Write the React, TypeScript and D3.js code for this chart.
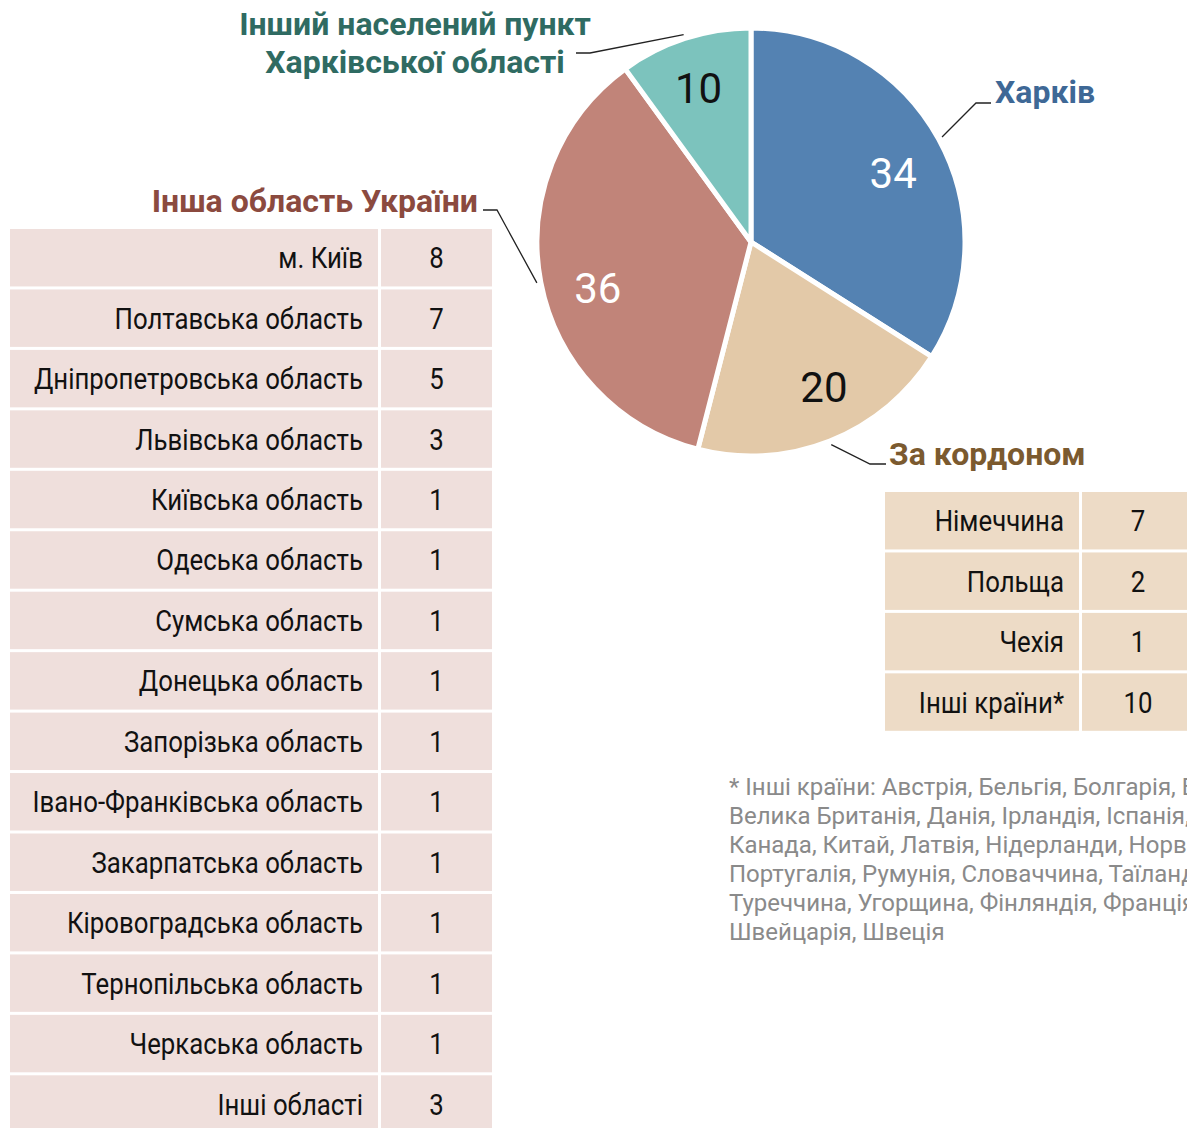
import React from "react";
import * as d3 from "d3";

// pie: where respondents are now
const groups = ["Харків", "За кордоном", "Інша область України", "Інший населений пункт Харківської області"];
const groupValues = [34, 20, 36, 10];
const groupColors = ["#5482b2", "#e3c9a8", "#c18479", "#7cc3bd"];
const labelColors = ["#3e6896", "#7b5a2f", "#8b4a3f", "#2f6b62"];
const valueColors = ["#ffffff", "#111111", "#ffffff", "#111111"];

// left table: other regions of Ukraine
const regions = [
  "м. Київ", "Полтавська область", "Дніпропетровська область", "Львівська область",
  "Київська область", "Одеська область", "Сумська область", "Донецька область",
  "Запорізька область", "Івано-Франківська область", "Закарпатська область",
  "Кіровоградська область", "Тернопільська область", "Черкаська область", "Інші області",
];
const regionValues = [8, 7, 5, 3, 1, 1, 1, 1, 1, 1, 1, 1, 1, 1, 3];

// right table: abroad
const countries = ["Німеччина", "Польща", "Чехія", "Інші країни*"];
const countryValues = [7, 2, 1, 10];

const footnote = [
  "* Інші країни: Австрія, Бельгія, Болгарія, Бразилія,",
  "Велика Британія, Данія, Ірландія, Іспанія, Італія,",
  "Канада, Китай, Латвія, Нідерланди, Норвегія,",
  "Португалія, Румунія, Словаччина, Таїланд,",
  "Туреччина, Угорщина, Фінляндія, Франція,",
  "Швейцарія, Швеція",
];

const W = 1187;
const H = 1128;
const FONT = "Roboto, 'Noto Sans', sans-serif";
const CONDENSED = 0.86; // squeeze Roboto to look like the condensed face

function Table({ labels, values, top, x0, split, x1, fill }: any) {
  const pitch = 60.45;
  const gap = 3;
  const y = d3.scaleBand<string>()
    .domain(labels)
    .range([top - gap / 2, top - gap / 2 + labels.length * pitch])
    .paddingInner(gap / pitch)
    .paddingOuter(gap / pitch / 2);
  return (
    <g>
      {labels.map((l: string, i: number) => {
        const yy = y(l)!;
        const cy = yy + y.bandwidth() / 2;
        return (
          <g key={l}>
            <rect x={x0} y={yy} width={split - x0} height={y.bandwidth()} fill={fill} />
            <rect x={split + gap} y={yy} width={x1 - split - gap} height={y.bandwidth()} fill={fill} />
            <text transform={`translate(${split - 15},${cy + 10.5}) scale(${CONDENSED},1)`}
              textAnchor="end" fontSize={30} fill="#111">{l}</text>
            <text transform={`translate(${(split + gap + x1) / 2},${cy + 10.5}) scale(${CONDENSED},1)`}
              textAnchor="middle" fontSize={30} fill="#111">{values[i]}</text>
          </g>
        );
      })}
    </g>
  );
}

export default function App() {
  const cx = 751, cy = 242, R = 214;
  const pie = d3.pie<number>().sort(null).value(d => d);
  const arcs = pie(groupValues);
  const arc = d3.arc<d3.PieArcDatum<number>>().innerRadius(0).outerRadius(R);
  const labelArc = d3.arc<d3.PieArcDatum<number>>().innerRadius(160).outerRadius(160);
  const edge = (a: d3.PieArcDatum<number>) => {
    const m = (a.startAngle + a.endAngle) / 2;
    return [cx + (R + 4) * Math.sin(m), cy - (R + 4) * Math.cos(m)];
  };
  // small hand nudges of the value labels, as in the original layout
  const nudges = [[2, 8], [14, -4], [4, 16], [-3, -2]];

  // leader line elbows and label anchors
  const callouts = [
    { elbow: [976, 103], end: [991, 103], tx: 995, ty: 103, anchor: "start", lines: ["Харків"] },
    { elbow: [870, 464], end: [886, 464], tx: 889, ty: 465, anchor: "start", lines: ["За кордоном"] },
    { elbow: [497, 210], end: [483, 210], tx: 478, ty: 212, anchor: "end", lines: ["Інша область України"] },
    { elbow: [590, 53], end: [576, 53], tx: 415, ty: 35, anchor: "middle", lines: ["Інший населений пункт", "Харківської області"] },
  ];

  return (
    <svg width={W} height={H} viewBox={`0 0 ${W} ${H}`}
      style={{ position: "absolute", left: 0, top: 0, background: "#fff" }} fontFamily={FONT}>
      <g transform={`translate(${cx},${cy})`}>
        {arcs.map((a, i) => (
          <path key={i} d={arc(a)!} fill={groupColors[i]} stroke="#fff" strokeWidth={5} strokeLinejoin="round" />
        ))}
        {arcs.map((a, i) => {
          const [lx, ly] = labelArc.centroid(a);
          return (
            <text key={i} x={lx + nudges[i][0]} y={ly + 15 + nudges[i][1]} textAnchor="middle" fontSize={42} fill={valueColors[i]}>
              {a.data}
            </text>
          );
        })}
      </g>

      {arcs.map((a, i) => {
        const c = callouts[i];
        const [sx, sy] = edge(a);
        return (
          <g key={i}>
            <polyline points={`${sx},${sy} ${c.elbow[0]},${c.elbow[1]} ${c.end[0]},${c.end[1]}`}
              fill="none" stroke="#222" strokeWidth={1.3} />
            {c.lines.map((t, j) => (
              <text key={j} x={c.tx} y={c.ty + j * 38} textAnchor={c.anchor as any}
                fontSize={32} fontWeight={700} fill={labelColors[i]}>{t}</text>
            ))}
          </g>
        );
      })}

      <Table labels={regions} values={regionValues} top={229} x0={10} split={378} x1={492} fill="#efdfdc" />
      <Table labels={countries} values={countryValues} top={492} x0={885} split={1079} x1={1194} fill="#eddbc6" />

      {footnote.map((t, i) => (
        <text key={i} x={729} y={795 + i * 29} fontSize={24} fill="#8a8a8a">{t}</text>
      ))}
    </svg>
  );
}
